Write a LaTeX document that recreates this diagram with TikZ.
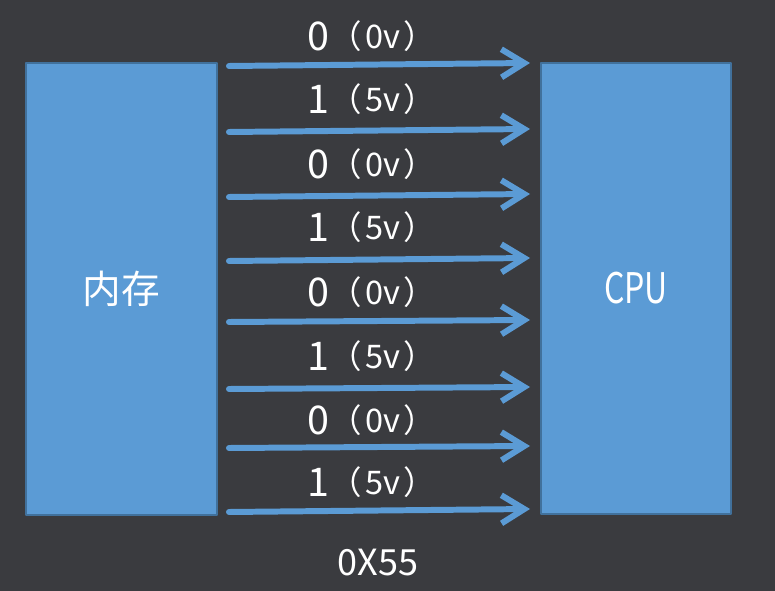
\documentclass[tikz,border=0pt]{standalone}
\usepackage{fontspec}
\setmainfont{Noto Sans CJK SC}
\newfontfamily\narrowfont[FakeStretch=0.76]{Noto Sans CJK SC}
\usetikzlibrary{arrows.meta}
\definecolor{bgdark}{HTML}{3A3B3F}
\definecolor{boxblue}{HTML}{5B9BD5}
\definecolor{boxedge}{HTML}{41719C}
\begin{document}
\begin{tikzpicture}[x=0.02cm, y=-0.02cm, line join=round, line cap=round,
		unit/.style={draw=boxedge, line width=1.1pt, fill=boxblue, text=white, inner sep=0pt, outer sep=0pt, font=\fontsize{22}{26}\selectfont},
		bus/.style={boxblue, line width=3.4pt, -{Straight Barb[length=13pt,width=16pt]}},
		bit/.style={text=white, anchor=base west, inner sep=0pt}]
		\fill[bgdark] (0,0) rectangle (775,591);
		\node[unit, minimum width=3.82cm, minimum height=9.04cm] (mem) at (121.5,289) {内存};
		\node[unit, minimum width=3.8cm, minimum height=9.02cm] (cpu) at (636,288.5) {\fontsize{24}{28}\narrowfont CPU};
		\foreach \i/\ya/\yb/\yt/\bv/\volt in {1/66/63/51/0/0, 2/132/129/114/1/5, 3/197/194/179/0/0, 4/261/258/242/1/5,
			5/322/320/307/0/0, 6/389/387/371/1/5, 7/448/446/435/0/0, 8/512/509/497/1/5} {
			\coordinate (s\i) at (229,\ya);
			\coordinate (e\i) at (530,\yb);
			\draw[bus] (s\i) -- (e\i);
			\node[bit] (bit\i) at (307,\yt) {\fontsize{22.5}{26}\selectfont\bv\fontsize{18.5}{21}\selectfont\raisebox{1.5pt}{（\hspace{2pt}\volt v\hspace{2pt}）}};
		}
		\node[text=white, font=\fontsize{20.5}{24}\selectfont] (word) at (378,562.5) {0X55};
\end{tikzpicture}
\end{document}
